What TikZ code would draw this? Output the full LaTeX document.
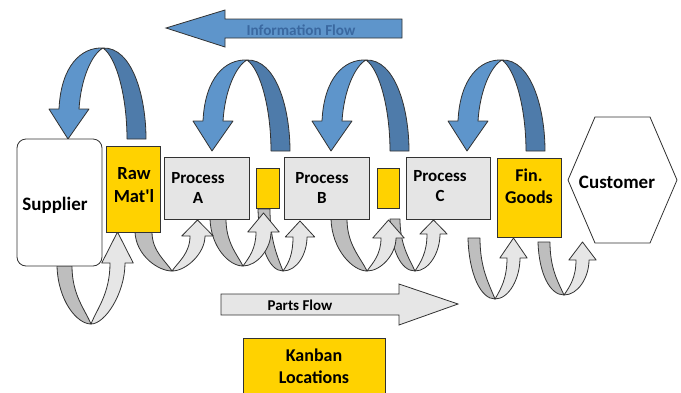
\documentclass[tikz,border=0pt]{standalone}
\usepackage{fontspec}
\setmainfont{Carlito}
\newfontfamily\carl{Carlito}
\usetikzlibrary{shapes.geometric}
\definecolor{edge}{RGB}{50,50,50}
\definecolor{kyellow}{RGB}{255,210,0}
\definecolor{procgray}{RGB}{229,229,229}
\definecolor{graydark}{RGB}{190,190,190}
\definecolor{graylight}{RGB}{230,230,230}
\definecolor{bluelight}{RGB}{94,149,203}
\definecolor{bluedark}{RGB}{78,123,170}
\definecolor{bluetext}{RGB}{58,104,160}
\newcommand\grayU[9]{%
  \path[fill=graydark,draw=edge,line width=0.8pt,line join=round]
    ({#1},{#3}) .. controls ({#1+1},{#3+0.6*(#5-#3)}) and ({#4-14},{#5}) .. ({#4},{#5})
    .. controls ({#4-6},{#5-0.25*(#5-#3)}) and ({#2},{#3+0.5*(#5-#3)}) .. ({#2},{#3}) -- cycle;
  \path[fill=graylight,draw=edge,line width=0.8pt,line join=round]
    ({#4},{#5}) .. controls ({#4+14},{#5}) and ({#7},{#8+0.5*(#5-#8)}) .. ({#7},{#8})
    -- ({#7+0.55*(#7-#6)},{#8}) -- ({(#6+#7)/2},{#9}) -- ({#6-0.55*(#7-#6)},{#8}) -- ({#6},{#8})
    .. controls ({#6},{#8+0.5*(#5-#8)}) and ({#4+6},{#5-0.25*(#5-#8)}) .. ({#4},{#5}) -- cycle;
}
\tikzset{
  box/.style={draw=edge,line width=0.8pt,inner sep=0pt},
  lbl/.style={font=\carl\bfseries\fontsize{17}{20}\selectfont,align=center,inner sep=0pt},
  infoU/.pic={
    \path[fill=bluedark,draw=edge,line width=0.8pt,line join=round]
      (0,0) .. controls (29,-1) and (43,48) .. (43,91) -- (24,91)
      .. controls (24,50) and (14,10) .. (0,0) -- cycle;
    \path[fill=bluelight,draw=edge,line width=0.8pt,line join=round]
      (0,0) .. controls (-22,-1) and (-42,18) .. (-44,61) -- (-54,61) -- (-35,91) -- (-14,61) -- (-24,61)
      .. controls (-22,30) and (-11,6) .. (0,0) -- cycle;
  }
}
\begin{document}
\begin{tikzpicture}[x=1pt,y=-1pt]
\useasboundingbox (0,0) rectangle (681,392);
% information flow arrow
\path[fill=bluelight,draw=edge,line width=0.8pt]
  (166,28) -- (225,10) -- (225,19) -- (402,19) -- (402,38) -- (225,38) -- (225,47) -- cycle;
\node[font=\carl\bfseries\fontsize{15.2}{17}\selectfont,text=bluetext] (info) at (301,30.5) {Information Flow};
% parts flow arrow
\path[fill=graylight,draw=edge,line width=0.8pt]
  (221,294) -- (399,294) -- (399,284) -- (458,304) -- (399,325) -- (399,315) -- (221,315) -- cycle;
\node[font=\carl\bfseries\fontsize{15}{17}\selectfont] (parts) at (300,305) {Parts Flow};
% info U arrows
\pic at (103,48) {infoU};
\pic at (247,60) {infoU};
\pic at (366,60) {infoU};
\pic at (502,60) {infoU};
% gray U arrows, right to left
\grayU{538}{550}{242}{564}{295}{576}{589}{260}{242}
\grayU{468}{480}{238}{495}{299}{507}{520}{258}{238}
\grayU{390}{400}{219}{415}{271}{427}{440}{234}{220}
\grayU{331}{347}{219}{367}{271}{381}{396}{238}{220}
\grayU{258}{270}{209}{283}{271}{293}{307}{237}{221}
\grayU{210}{226}{219}{243}{266}{256}{271}{232}{213}
\grayU{135}{152}{232}{172}{271}{190}{205}{236}{220}
\grayU{57}{72}{266}{91}{324}{110}{125}{263}{232}
% boxes
\node[box,fill=white,rounded corners=9pt,minimum width=85pt,minimum height=127pt] (sup) at (59.5,202.5) {};
\node[lbl,font=\carl\bfseries\fontsize{19}{22}\selectfont] (suptxt) at (55,205) {Supplier};
\node[box,fill=kyellow,minimum width=54pt,minimum height=86pt] (raw) at (133,189) {};
\node[lbl,font=\carl\bfseries\fontsize{18.5}{23}\selectfont] (rawtxt) at (134,185) {Raw\\Mat'l};
\node[box,fill=procgray,minimum width=85pt,minimum height=62pt] (pa) at (206.5,188) {};
\node[lbl] (patxt) at (198,188) {Process\\A};
\node[box,fill=kyellow,minimum width=23pt,minimum height=40pt] (k1) at (267.5,188) {};
\node[box,fill=procgray,minimum width=85pt,minimum height=62pt] (pb) at (326.5,188) {};
\node[lbl] (pbtxt) at (322,188) {Process\\B};
\node[box,fill=kyellow,minimum width=22pt,minimum height=40pt] (k2) at (388,188) {};
\node[box,fill=procgray,minimum width=84pt,minimum height=62pt] (pc) at (448,188) {};
\node[lbl] (pctxt) at (440,186) {Process\\C};
\node[box,fill=kyellow,minimum width=64pt,minimum height=79pt] (fg) at (529,197.5) {};
\node[lbl,font=\carl\bfseries\fontsize{18}{22}\selectfont] (fgtxt) at (529,186) {Fin.\\Goods};
\path[draw=edge,line width=0.8pt,fill=white] (568,180) -- (595,117) -- (650,117) -- (677,180) -- (650,243) -- (595,243) -- cycle;
\node[lbl,font=\carl\bfseries\fontsize{19}{22}\selectfont] (cust) at (617,182) {Customer};
\node[box,fill=kyellow,minimum width=142pt,minimum height=70pt] (kan) at (314,373) {};
\node[lbl,font=\carl\bfseries\fontsize{18}{22}\selectfont] (kantxt) at (314,366) {Kanban\\Locations};
\end{tikzpicture}
\end{document}
